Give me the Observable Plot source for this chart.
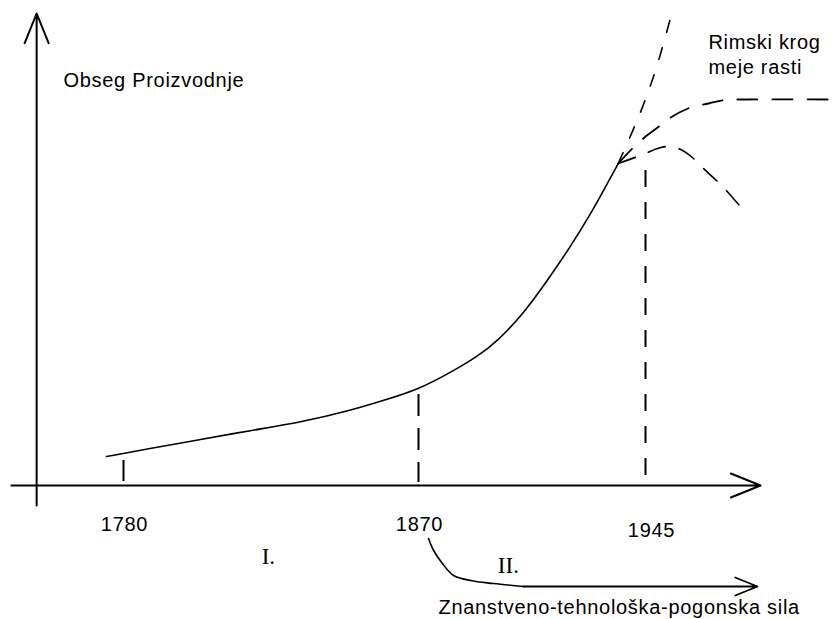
<!DOCTYPE html>
<html>
<head>
<meta charset="utf-8">
<script src="https://cdn.jsdelivr.net/npm/d3@7"></script>
<script src="https://cdn.jsdelivr.net/npm/@observablehq/plot@0.6"></script>
<style>
  html, body { margin: 0; padding: 0; background: #fff; }
  #chart svg text.sans { letter-spacing: 0.7px; }
</style>
</head>
<body>
<div id="chart"></div>
<script>
// ---- data (schematic: x = year, y = production volume in arbitrary units) ----
const tickYears = [1780, 1870, 1945];
const tickLabels = ["1780", "1870", "1945"];

// main growth curve
const curveYear = [1774.8, 1788.2, 1803.5, 1818.7, 1834, 1849.3, 1859.3, 1870, 1880.6, 1889.5, 1896, 1904.7, 1912.6, 1920, 1927, 1932.4, 1936];
const curveVolume = [7.25, 9.25, 11.5, 13.75, 15.75, 18.75, 21.25, 24, 28.25, 32.25, 36, 43, 51.25, 59.5, 68, 75.5, 80.5];

// three scenarios after the tip
const growthYear = [1936, 1943.3, 1948.3, 1953.3];
const growthVolume = [80.5, 93.25, 103.75, 117];
const limitYear = [1936, 1942.7, 1949, 1953.3, 1959.9, 1965.8, 1971.4, 1978, 2007];
const limitVolume = [80.5, 85.75, 89.5, 92, 94.5, 95.5, 96.4, 96.5, 96.5];
const declineYear = [1936, 1943.3, 1949, 1952.6, 1956.6, 1960.5, 1963.8, 1970.8, 1977.4];
const declineVolume = [80.5, 82.5, 84.25, 84.75, 84, 82, 79.5, 74.5, 68.75];

// markers at the tick years (volume extents)
const markerTop = [6.25, 22.75, 78.75];
const markerBottom = [1, 0.75, 0];
const markerDashed = [false, true, true];

// curved "driving force" arrow below the axis
const forceYear = [1873.3, 1875, 1877.9, 1881.6, 1887.2, 1894.8, 1904.7];
const forceVolume = [-13.25, -16.25, -19.5, -22.5, -23.75, -24.5, -25.25];
const forceEndYear = 1982;

// axes extents
const yAxisYear = 1753.5, yAxisFrom = -5, yAxisTo = 118;
const xAxisFrom = 1745.8, xAxisTo = 1983;

// labels
const periodLabels = ["I.", "II."];
const periodYear = [1824.2, 1899.7];
const periodVolume = [-19.5, -21.75];
const textLabels = ["Obseg Proizvodnje", "Rimski krog\nmeje rasti", "Znanstveno-tehnološka-pogonska sila"];
const textYear = [1761.7, 1965.8, 1876.6];
const textVolume = [99.75, 103, -32];
const tickLabelVolume = -11.25;

// ---- build tables ----
const zip = (xs, ys) => xs.map((x, i) => ({x, y: ys[i]}));
const curve = zip(curveYear, curveVolume);
const growth = zip(growthYear, growthVolume);
const limit = zip(limitYear, limitVolume);
const decline = zip(declineYear, declineVolume);
const force = zip(forceYear, forceVolume);
const markers = tickYears.map((x, i) => ({x, y1: markerBottom[i], y2: markerTop[i], dashed: markerDashed[i]}));
const ticks = tickYears.map((x, i) => ({x, label: tickLabels[i]}));
const periods = periodLabels.map((t, i) => ({x: periodYear[i], y: periodVolume[i], t}));
const texts = textLabels.map((t, i) => ({x: textYear[i], y: textVolume[i], t}));
const axes = [
  {x1: yAxisYear, y1: yAxisFrom, x2: yAxisYear, y2: yAxisTo},
  {x1: xAxisFrom, y1: 0, x2: xAxisTo, y2: 0}
];
const last = force[force.length - 1];
const forceArrow = [{x1: last.x, y1: last.y, x2: forceEndYear, y2: last.y}];

const chart = Plot.plot({
  width: 832,
  height: 619,
  margin: 0,
  x: {type: "linear", domain: tickYears, range: [123, 418, 645], axis: null},
  y: {domain: [0, 100], range: [485, 85], axis: null},
  style: {background: "#fff", color: "#000", fontFamily: "'Liberation Sans', Arial, sans-serif", fontSize: "20px"},
  marks: [
    Plot.arrow(axes, {x1: "x1", y1: "y1", x2: "x2", y2: "y2", stroke: "#000", strokeWidth: 2, headLength: 24, headAngle: 44}),
    Plot.ruleX(markers.filter(d => !d.dashed), {x: "x", y1: "y1", y2: "y2", stroke: "#000", strokeWidth: 2}),
    Plot.ruleX(markers.filter(d => d.dashed && d.x === 1870), {x: "x", y1: "y2", y2: "y1", stroke: "#000", strokeWidth: 2, strokeDasharray: "22,12"}),
    Plot.ruleX(markers.filter(d => d.dashed && d.x === 1945), {x: "x", y1: "y2", y2: "y1", stroke: "#000", strokeWidth: 2, strokeDasharray: "17,15"}),
    Plot.line(curve, {x: "x", y: "y", curve: "basis", stroke: "#000", strokeWidth: 1.6}),
    Plot.line(growth, {x: "x", y: "y", curve: "catmull-rom", stroke: "#000", strokeWidth: 1.6, strokeDasharray: "12,16"}),
    Plot.line(limit, {x: "x", y: "y", curve: "catmull-rom", stroke: "#000", strokeWidth: 1.8, strokeDasharray: "20,15"}),
    Plot.line(decline, {x: "x", y: "y", curve: "catmull-rom", stroke: "#000", strokeWidth: 1.6, strokeDasharray: "18,14"}),
    Plot.line(force, {x: "x", y: "y", curve: "catmull-rom", stroke: "#000", strokeWidth: 1.6}),
    Plot.arrow(forceArrow, {x1: "x1", y1: "y1", x2: "x2", y2: "y2", stroke: "#000", strokeWidth: 1.8, headLength: 20, headAngle: 44}),
    Plot.text(ticks.filter(d => d.x !== 1945), {x: "x", y: () => tickLabelVolume, text: "label", textAnchor: "middle", lineAnchor: "bottom", fontSize: 20, fill: "#000", dx: 1}),
    Plot.text(ticks.filter(d => d.x === 1945), {x: "x", y: () => tickLabelVolume, text: "label", textAnchor: "middle", lineAnchor: "bottom", fontSize: 20, fill: "#000", dx: 6, dy: 6}),
    Plot.text(texts, {x: "x", y: "y", text: "t", textAnchor: "start", lineAnchor: "bottom", lineHeight: 1.25, fontSize: 20, fill: "#000"}),
    Plot.text(periods, {x: "x", y: "y", text: "t", textAnchor: "middle", lineAnchor: "bottom", fontSize: 23, fill: "#000", fontFamily: "'Liberation Serif', 'Times New Roman', serif"})
  ]
});
document.getElementById("chart").appendChild(chart);
d3.select(chart).selectAll("text").each(function() {
  const ff = this.getAttribute("font-family") || (this.parentNode && this.parentNode.getAttribute && this.parentNode.getAttribute("font-family")) || "";
  if (!/Serif'/.test(ff)) this.classList.add("sans");
});
</script>
</body>
</html>
